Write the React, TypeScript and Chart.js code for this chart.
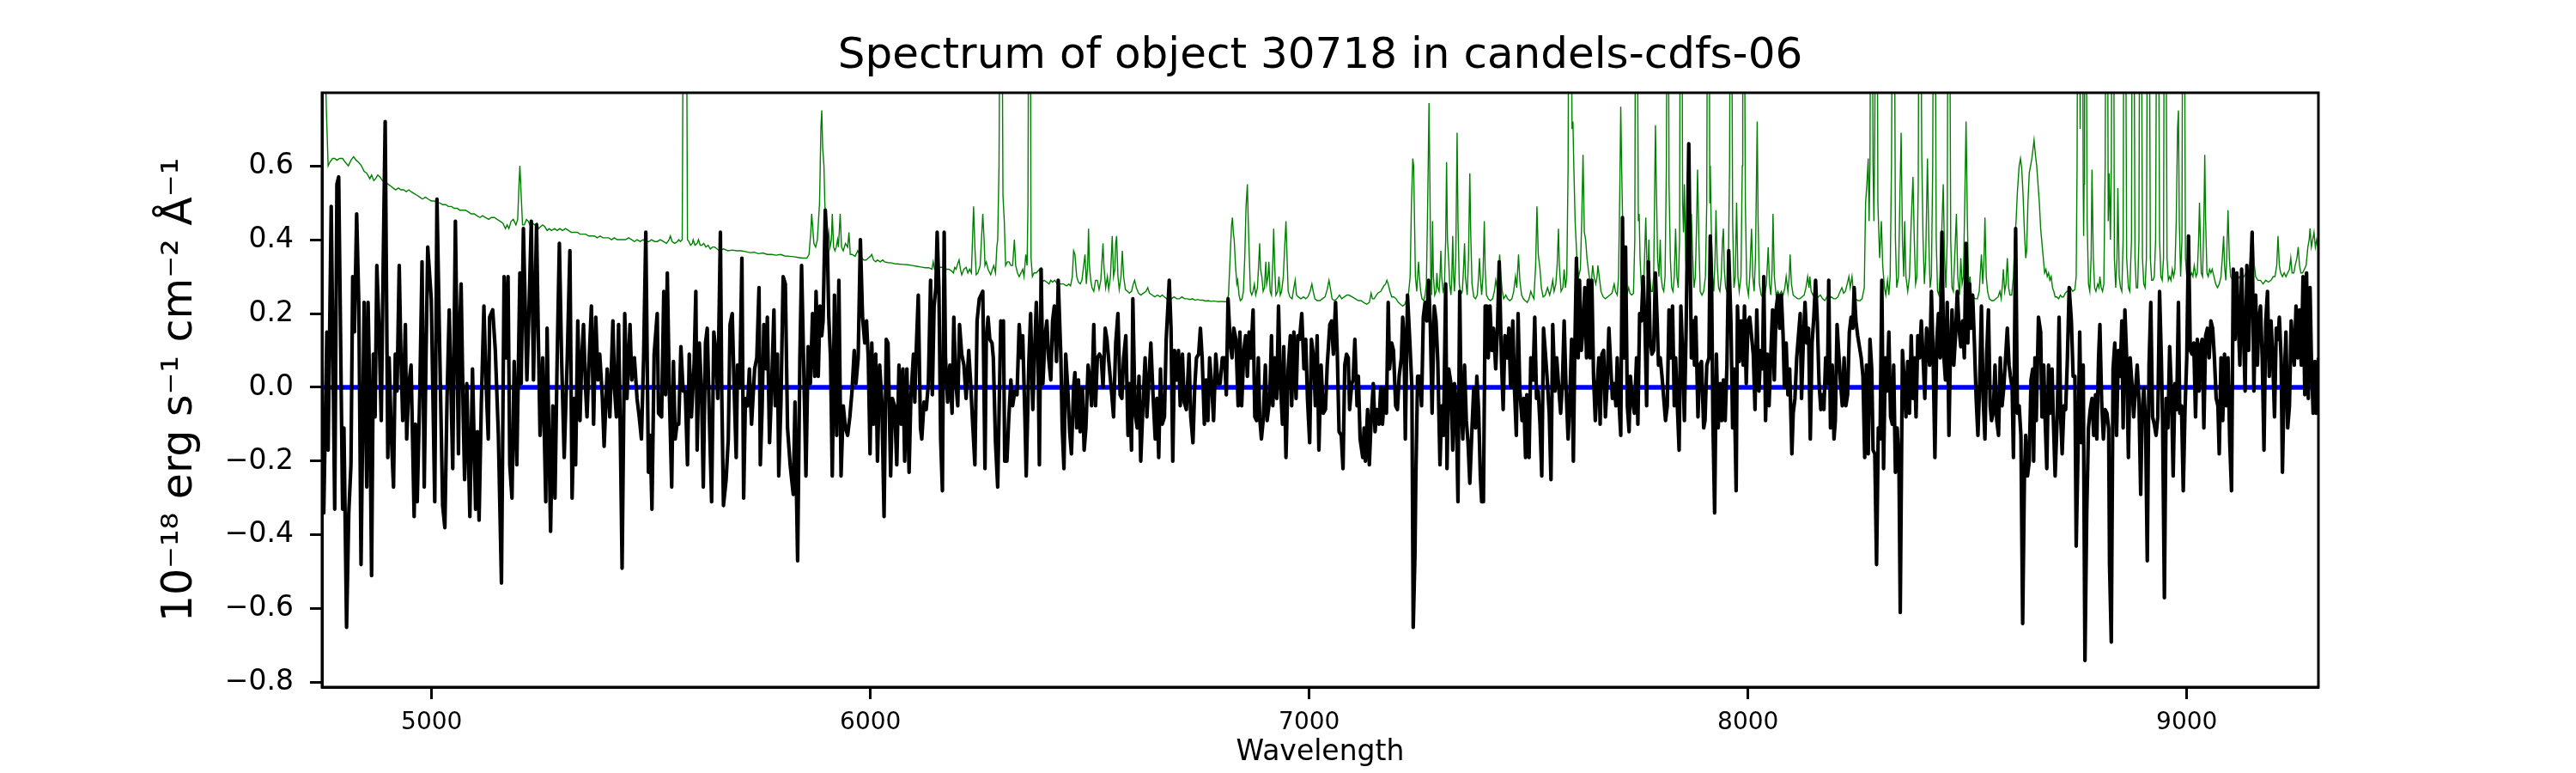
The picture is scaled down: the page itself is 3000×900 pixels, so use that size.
import React, { useEffect, useRef } from "react";
import { Chart, registerables } from "chart.js";

Chart.register(...registerables);

const FONT = "DejaVu Sans";
const titleText = "Spectrum of object 30718 in candels-cdfs-06";
const xLabel = "Wavelength";
const yLabel = "10\u207B\u00B9\u2078 erg s\u207B\u00B9 cm\u207B\u00B2 \u00C5\u207B\u00B9";
const xTicks = [5000, 6000, 7000, 8000, 9000];
const yTicks = [-0.8, -0.6, -0.4, -0.2, 0, 0.2, 0.4, 0.6];
const xRange = [4750, 9300];
const yRange = [-0.812, 0.798];
const zeroWave = [4750, 9300];
const zeroFlux = [0, 0];

// flux: flat pairs [wavelength (Å), flux in units of 0.01 × 1e-18]
const fluxSeg1 = [4750,-10,4754,-34,4761,15,4764,-17,4771,49,4779,-33,4784,55,4788,57,4797,-33,4800,-11,4806,-65,4811,-34,4816,-21,4820,30,4824,15,4829,47,4834,22,4839,-48,4846,23,4852,-27,4855,23,4859,-3,4863,-51,4867,9,4871,-8,4875,33,4880,16,4885,-9,4889,29,4894,72,4900,-19,4903,8,4908,-13,4913,-27,4917,9,4921,-1,4926,33,4930,8,4934,-9,4940,17,4943,-14,4948,1,4953,6,4960,-35,4963,-10,4967,-31,4973,-1,4978,34,4983,-27,4987,8,4991,38,4999,24,5007,-31,5012,51,5018,12,5025,-32,5030,-38,5035,-3,5040,21,5048,-22,5054,45,5061,-18,5064,16,5067,28,5072,-8,5075,-25,5080,1,5087,-35,5093,5,5100,-33,5104,-12,5108,-36,5113,-5,5119,22,5124,1,5129,-14,5132,19,5139,21,5145,10,5152,-13,5159,-53,5165,30,5170,8,5174,30,5178,-21,5183,-30,5188,7,5194,-21,5201,31,5204,1,5209,43,5217,2,5222,22,5227,45,5232,2,5239,44,5243,14,5247,-13,5253,8,5260,-31,5263,16,5267,-13,5271,-39,5276,-5,5281,-30,5286,8,5291,39,5296,8,5302,-19,5309,8,5315,37,5320,-30,5325,-3,5328,-21,5333,18,5338,-9,5342,8,5346,17,5351,-1,5354,-8,5359,8,5364,22,5369,-10,5374,19,5379,2,5383,9,5389,-3,5393,-16,5400,5,5406,-8,5413,18,5417,-1,5421,-8,5426,17,5430,-13,5434,-49,5440,20,5445,-3,5452,17,5456,2,5462,8,5468,-3,5473,-8,5478,-14,5483,8,5488,42,5494,-23,5498,-13,5502,-33,5507,9,5514,20,5517,-7];
const fluxSeg2 = [5524,-8,5529,26,5533,-2,5537,31,5542,-3,5547,-27,5551,7,5555,-14,5559,-10,5563,-10,5568,11,5573,-1,5578,-1,5583,-21,5587,9,5592,-8,5598,6,5602,26,5605,-17,5610,12,5615,-1,5619,-27,5624,12,5628,16,5633,-9,5638,-31,5643,15,5648,9,5652,-3,5658,42,5661,-1,5665,-32,5671,-25,5676,-14,5680,17,5685,20,5689,1,5694,-19,5697,6,5702,0,5707,35,5711,-30,5715,-3,5720,-5,5724,5,5729,-10,5736,5,5741,8,5746,27,5749,-21,5753,-6,5757,17,5762,5,5765,19,5770,-15,5775,1,5780,21,5783,-5,5788,9,5791,-24,5796,-4,5801,30,5806,28,5811,-11,5817,-21,5824,-29,5828,-4,5834,-47,5839,7,5843,33,5848,5,5853,-24,5858,11,5863,1,5868,20,5873,3,5876,26,5881,3,5885,22,5889,14,5892,18,5897,48,5902,37,5905,19,5909,8,5913,-24,5918,25,5923,-13,5928,29,5933,-24,5938,-5,5943,-11,5948,-13,5953,-8,5958,-1,5963,10,5967,1,5972,8,5977,40,5982,19,5987,12,5991,18,5995,8,5999,-18,6003,12,6007,-10,6012,9,6016,-20,6021,6,6026,-4,6031,-35,6036,13,6040,12,6046,-24,6050,-3,6055,-5,6060,-21,6065,6,6070,-10,6074,5,6078,-20,6083,5,6088,-23,6092,-3,6098,9,6101,-4,6104,9,6109,25,6114,-11,6117,-14,6122,-4,6127,-6,6132,1,6137,29,6141,-2,6145,22,6149,27,6152,42,6156,27,6160,-14,6164,-28,6168,42,6171,8,6176,-4,6181,6,6186,-7,6190,19,6194,2,6199,-5,6203,17,6208,9,6213,6,6218,-3,6224,10,6228,2,6233,-10,6238,-21,6243,18,6248,24,6252,25,6256,26,6261,-22,6264,13,6268,19,6272,13,6277,12,6280,8,6285,-15,6290,-27,6297,18,6301,16];
const fluxSeg3 = [6303,18,6306,-20,6311,-20,6315,-9,6320,2,6324,-5,6329,-1,6334,-2,6339,17,6344,8,6347,14,6352,-8,6355,-24,6361,7,6365,20,6370,-6,6374,9,6378,23,6382,8,6385,-21,6389,32,6393,1,6398,14,6402,18,6406,8,6411,2,6415,18,6419,22,6424,7,6428,29,6434,8,6437,-11,6441,-22,6445,9,6450,-1,6454,-12,6458,-18,6463,0,6466,4,6470,-11,6474,2,6478,-12,6483,0,6487,-17,6491,-11,6496,6,6500,2,6504,-5,6509,17,6513,-5,6517,8,6522,9,6526,8,6530,0,6535,16,6539,13,6544,6,6550,-2,6554,-8,6559,12,6564,20,6569,-2,6573,-3,6577,8,6582,14,6587,-13,6590,1,6595,-17,6598,24,6603,-7,6608,-11,6612,3,6616,-20,6621,-5,6626,8,6630,-8,6635,3,6639,12,6644,-2,6649,-14,6653,-3,6657,-19,6661,5,6665,-10,6670,-8,6674,13,6678,22,6681,29,6685,16,6689,-20,6693,10,6698,2,6702,10,6706,-5,6711,9,6715,-4,6720,-6,6726,9,6730,-8,6735,-15,6739,0,6743,8,6748,9,6752,16,6756,8,6761,-10,6765,2,6769,-9,6773,8,6778,0,6782,-9,6787,9,6792,1,6797,1,6802,8,6807,8,6811,-2,6815,24,6820,12,6824,8,6828,16,6833,13,6838,-5,6842,15,6846,-5,6851,10,6855,14,6859,3,6863,15,6867,8,6872,21,6876,-8,6880,-9,6884,8,6887,-8,6891,-14,6895,-9,6900,6,6904,-9,6910,-3,6914,14,6917,-5,6921,8,6926,-3,6930,22,6934,2,6939,-10,6942,11,6947,-19,6952,5,6957,14,6960,-5,6965,15,6970,-3,6974,14,6978,13,6983,20,6988,5,6992,13,6996,-3,7001,-15,7005,13,7010,8,7014,-5,7018,14,7022,-17,7027,6,7032,-7,7037,-6,7041,6,7047,17,7051,18,7055,9,7060,23,7064,9,7068,-12,7073,-13,7077,-22,7081,6,7085,9];
const fluxSeg4 = [7089,8,7092,-6,7097,1,7100,2,7104,13,7109,-5,7112,3,7116,-14,7122,-19,7125,-11,7128,-20,7133,-6,7137,-21,7141,-9,7146,1,7150,-12,7154,-6,7159,-10,7163,0,7167,-10,7172,0,7176,-7,7180,23,7183,5,7188,12,7192,10,7197,-5,7201,-6,7205,3,7210,8,7213,19,7216,13,7219,-14,7224,25,7229,13,7234,0,7237,-65,7241,-45,7243,-24,7247,3,7252,3,7256,-5,7260,19,7264,23,7268,18,7272,29,7276,17,7280,-7,7285,22,7289,18,7293,7,7298,-21,7302,-5,7306,-13,7311,28,7314,-22,7318,5,7323,1,7327,-17,7331,1,7335,-5,7339,-31,7343,26,7346,-3,7350,-14,7354,6,7358,-9,7362,-15,7366,-26,7371,-11,7375,0,7379,-11,7382,3,7386,-6,7390,-24,7393,-31,7397,-31,7401,22,7405,22,7408,8,7412,22,7416,10,7420,16,7425,5,7429,16,7433,34,7438,8,7442,-6,7446,14,7451,8,7455,16,7459,0,7464,18,7468,-1,7472,-13,7476,20,7480,-1,7485,-9,7489,-3,7493,-19,7496,-2,7501,-19,7505,8,7510,2,7514,19,7518,-3,7522,-1,7526,-10,7530,-24,7534,16,7539,8,7543,1,7547,-7,7551,-25,7555,17,7560,-1,7564,8,7568,1,7573,-7,7577,1,7581,18,7585,1,7590,-14,7594,-3,7598,13,7602,-20,7605,8,7609,35,7613,8,7616,29,7620,10,7624,16,7628,27,7632,8,7636,29,7640,8,7644,29,7648,3,7652,-9,7656,0,7660,8,7663,-10,7667,9,7671,10,7675,-8,7679,1,7683,16,7687,6,7691,-3,7695,1,7699,-5,7702,8,7706,-4,7710,-13,7714,46,7717,8,7721,38,7725,-5,7729,-12,7732,3,7736,-3,7741,-7,7746,8,7749,-10,7753,20,7757,18,7761,30,7765,18,7769,-5,7773,34,7777,13,7781,9,7785,10,7789,31,7793,18,7796,6,7800,8,7804,3,7808,-3,7812,-9,7816,-5,7820,21,7824,8,7828,22,7832,-5,7835,8,7839,-5,7843,-17,7847,22,7851,9,7855,-9,7859,16];
const fluxSeg5 = [7865,66,7871,8,7875,18,7878,6,7881,19,7886,-8,7890,6,7894,7,7899,-11,7902,-9,7906,6,7911,8,7914,41,7917,29,7920,-9,7924,-34,7928,9,7932,-11,7937,1,7940,-9,7944,2,7948,-9,7952,6,7956,37,7961,18,7965,-11,7968,5,7973,-28,7976,22,7980,7,7984,18,7989,6,7992,22,7996,1,8000,18,8004,19,8008,14,8012,9,8016,-6,8020,21,8025,-1,8029,10,8033,5,8036,30,8040,-9,8044,9,8048,-5,8052,9,8056,21,8060,2,8064,21,8068,25,8072,16,8076,25,8080,14,8083,0,8087,12,8091,-2,8095,5,8100,-18,8103,-7,8107,-3,8111,8,8115,14,8119,20,8122,-3,8126,12,8130,23,8134,12,8138,16,8142,-14,8146,12,8150,19,8154,29,8158,18,8162,1,8166,-6,8169,-2,8173,-6,8177,8,8181,1,8184,29,8188,-11,8192,6,8196,-14,8199,-9,8203,17,8207,9,8211,1,8215,-5,8219,8,8223,-5,8227,-2,8231,15,8235,19,8239,16,8242,27,8246,18,8250,14,8254,11,8258,8,8262,3,8266,-19,8270,6,8274,-18,8278,13,8282,5,8285,-17,8289,-18,8293,-48,8297,-11,8301,-14,8305,29,8309,-22,8313,8,8317,-1,8321,15,8325,-8,8329,-10,8332,6,8336,-23,8340,-11,8344,-20,8347,-61,8352,10,8356,2,8360,-8,8364,7,8368,-7,8372,14,8376,-3,8379,8,8383,-8,8387,14,8391,8,8395,18,8399,8,8403,-3,8407,16,8411,10,8414,6,8418,26,8422,8,8426,-19,8430,12,8434,20,8438,8,8442,42,8446,9,8450,2,8454,23,8458,-13,8461,8,8465,21,8469,6,8473,14,8477,26,8481,16,8485,11,8489,18,8493,8,8497,39,8501,12,8505,28,8508,16,8512,25,8516,12,8520,-3,8524,-13,8528,1,8532,22,8536,-3,8540,-14,8544,9,8548,21,8552,-5,8555,-9,8559,-7,8563,6,8567,-9,8571,-13,8575,8,8579,-5,8583,0,8587,8,8591,16,8595,6,8598,3,8602,0,8605,-19,8610,43,8614,-7,8618,-5,8622,-13,8626,-64,8630,-24,8633,-13,8637,-24,8641,-20,8645,2,8649,5];
const fluxSeg6 = [8651,-20,8654,8,8657,-9,8662,19,8667,15,8670,-8,8674,6,8677,-8,8681,-22,8685,6,8688,-7,8693,5,8696,-9,8700,-24,8705,-7,8709,19,8713,-9,8716,-18,8720,-5,8724,-6,8728,8,8732,27,8737,18,8741,3,8745,3,8748,-43,8752,-18,8756,15,8760,-15,8764,6,8768,-74,8772,-34,8776,-11,8780,-6,8784,-3,8788,-13,8792,-2,8795,-14,8799,8,8802,17,8806,-4,8810,-14,8814,-6,8818,-7,8822,-11,8824,-48,8828,-69,8832,5,8836,12,8840,-13,8844,10,8848,3,8852,18,8855,-11,8859,21,8863,8,8867,-19,8871,8,8875,1,8879,-8,8883,-1,8887,6,8891,-3,8895,-29,8898,-8,8902,0,8906,-9,8910,-47,8914,6,8918,23,8922,-8,8926,-10,8930,-13,8934,-8,8938,26,8942,8,8945,-10,8949,-57,8953,-3,8957,-11,8961,11,8965,-1,8969,-24,8973,1,8977,-6,8981,23,8984,-7,8988,-5,8992,-28,8996,-6,9000,8,9004,41,9008,10,9012,9,9016,12,9020,-8,9024,13,9028,-1,9031,11,9035,13,9039,-11,9043,14,9047,16,9051,8,9055,18,9059,16,9063,8,9067,-3,9071,-5,9074,-18,9078,8,9082,-9,9086,9,9090,-5,9094,8,9098,-15,9102,-28,9106,32,9110,13,9114,31,9118,16,9121,6,9125,32,9129,16,9133,-1,9137,33,9141,10,9145,29,9149,42,9153,-1,9157,25,9161,6,9164,18,9168,22,9172,8,9176,-17,9180,18,9184,26,9188,3,9192,18,9196,8,9200,-8,9204,16,9208,13,9211,19,9215,8,9218,-23,9222,1,9226,15,9230,-11,9234,-5,9238,18,9241,12,9245,6,9249,22,9253,8,9257,21,9261,6,9265,30,9269,-2,9273,31,9277,-3,9281,27,9284,8,9288,-7,9292,7,9295,-7,9300,8];

// green noise spectrum: flat pairs [wavelength (Å), value]
const noiseSeg1 = [4750,0.95,4757,0.9,4760,0.75,4764,0.6,4768,0.61,4774,0.62,4779,0.62,4784,0.615,4790,0.62,4797,0.62,4803,0.61,4810,0.6,4816,0.615,4822,0.625,4828,0.615,4833,0.61,4840,0.6,4846,0.585,4852,0.58,4859,0.565,4863,0.575,4868,0.56,4872,0.565,4877,0.575,4882,0.57,4888,0.56,4895,0.555,4901,0.55,4907,0.545,4912,0.54,4918,0.535,4924,0.54,4930,0.535,4936,0.535,4942,0.53,4948,0.535,4953,0.53,4960,0.525,4967,0.52,4973,0.515,4979,0.51,4986,0.515,4992,0.51,4999,0.505,5006,0.505,5012,0.5,5018,0.5,5025,0.495,5032,0.495,5038,0.49,5045,0.49,5051,0.485,5058,0.485,5064,0.48,5071,0.48,5077,0.48,5084,0.475,5090,0.47,5097,0.47,5103,0.465,5110,0.46,5116,0.465,5123,0.46,5130,0.455,5136,0.46,5143,0.46,5149,0.455,5156,0.45,5162,0.445,5168,0.43,5172,0.44,5176,0.43,5181,0.45,5186,0.455,5192,0.44,5196,0.455,5199,0.55,5201,0.6,5204,0.52,5207,0.44,5211,0.44,5216,0.455,5220,0.45,5224,0.44,5229,0.445,5235,0.44,5240,0.445,5244,0.43,5248,0.435,5253,0.44,5258,0.435,5263,0.425,5268,0.43,5273,0.425,5280,0.43,5286,0.425,5292,0.43,5298,0.425,5305,0.43,5312,0.425,5318,0.42,5325,0.42,5332,0.42,5338,0.415,5345,0.415,5351,0.415,5358,0.41,5364,0.41,5371,0.41,5377,0.405,5384,0.41,5390,0.405,5397,0.405,5403,0.405,5410,0.4,5416,0.405,5423,0.4,5429,0.4,5436,0.4,5442,0.4,5449,0.405,5456,0.4,5462,0.395,5468,0.4,5475,0.395,5482,0.4,5488,0.395,5495,0.395,5501,0.4,5508,0.395,5514,0.395];
const noiseSeg2 = [5521,0.4,5528,0.395,5535,0.39,5541,0.4,5544,0.41,5548,0.395,5554,0.39,5560,0.395,5563,0.4,5567,0.395,5571,0.4,5574,1.3,5580,1.3,5583,0.4,5586,0.395,5590,0.385,5594,0.39,5596,0.4,5600,0.385,5605,0.39,5608,0.4,5612,0.385,5616,0.385,5620,0.39,5625,0.38,5630,0.385,5635,0.375,5640,0.38,5645,0.38,5650,0.375,5656,0.37,5665,0.375,5675,0.37,5685,0.372,5695,0.37,5705,0.37,5715,0.368,5725,0.365,5735,0.366,5745,0.362,5755,0.364,5765,0.36,5775,0.36,5785,0.358,5795,0.36,5805,0.356,5815,0.355,5825,0.354,5835,0.352,5845,0.35,5855,0.35,5860,0.36,5864,0.42,5866,0.47,5868,0.44,5871,0.39,5875,0.38,5879,0.4,5884,0.5,5887,0.7,5889,0.75,5891,0.65,5894,0.6,5896,0.5,5899,0.4,5902,0.39,5905,0.42,5908,0.38,5911,0.4,5913,0.47,5916,0.38,5919,0.37,5922,0.38,5925,0.4,5927,0.38,5931,0.47,5934,0.38,5938,0.37,5943,0.39,5948,0.38,5951,0.42,5954,0.36,5958,0.36,5965,0.355,5971,0.37,5975,0.36,5980,0.35,5985,0.345,5990,0.345,5995,0.35,6000,0.355,6003,0.36,6007,0.345,6012,0.34,6016,0.345,6022,0.34,6028,0.345,6032,0.34,6040,0.338,6048,0.337,6055,0.335,6065,0.334,6075,0.333,6085,0.332,6095,0.33,6105,0.328,6115,0.326,6125,0.324,6133,0.324,6140,0.32,6143,0.34,6146,0.32,6150,0.32,6158,0.325,6166,0.325,6172,0.32,6179,0.32,6185,0.315,6189,0.31,6192,0.325,6195,0.32,6199,0.335,6202,0.345,6205,0.32,6208,0.305,6213,0.32,6218,0.325,6222,0.31,6226,0.32,6230,0.31,6232,0.38,6235,0.49,6238,0.38,6241,0.305,6245,0.31,6250,0.33,6253,0.4,6256,0.47,6259,0.4,6261,0.33,6264,0.34,6268,0.32,6272,0.31,6274,0.305,6278,0.32,6281,0.33,6285,0.31,6288,0.38,6290,0.4,6293,0.6,6296,1.3,6299,1.3,6302,0.52,6305,0.45,6308,0.33];
const noiseSeg3 = [6312,0.34,6316,0.34,6320,0.33,6324,0.33,6328,0.4,6331,0.33,6335,0.31,6339,0.3,6343,0.31,6347,0.32,6350,0.3,6354,0.36,6357,0.33,6359,0.5,6361,1.3,6364,1.3,6366,0.35,6369,0.3,6373,0.31,6378,0.31,6385,0.32,6391,0.285,6396,0.29,6402,0.285,6407,0.28,6411,0.29,6415,0.285,6420,0.29,6426,0.28,6434,0.28,6440,0.28,6447,0.275,6452,0.28,6456,0.275,6460,0.3,6463,0.37,6466,0.36,6470,0.3,6474,0.285,6478,0.28,6482,0.29,6486,0.33,6489,0.36,6492,0.28,6495,0.33,6497,0.43,6499,0.33,6502,0.29,6505,0.27,6509,0.26,6513,0.29,6517,0.29,6521,0.265,6525,0.29,6528,0.35,6530,0.39,6532,0.33,6536,0.27,6540,0.3,6543,0.265,6547,0.3,6551,0.41,6554,0.3,6557,0.32,6559,0.39,6561,0.41,6564,0.3,6567,0.265,6571,0.3,6574,0.37,6577,0.3,6581,0.265,6586,0.26,6590,0.255,6595,0.26,6599,0.28,6602,0.29,6606,0.27,6611,0.255,6616,0.25,6622,0.255,6628,0.26,6632,0.27,6636,0.255,6642,0.25,6648,0.245,6654,0.25,6660,0.245,6665,0.25,6670,0.245,6675,0.24,6680,0.245,6686,0.24,6692,0.245,6698,0.24,6704,0.24,6710,0.245,6716,0.24,6722,0.24,6728,0.238,6734,0.24,6740,0.236,6746,0.238,6752,0.236,6758,0.236,6764,0.234,6770,0.235,6776,0.233,6782,0.234,6788,0.233,6794,0.232,6800,0.233,6806,0.232,6812,0.232,6816,0.25,6820,0.36,6823,0.44,6825,0.46,6827,0.42,6829,0.4,6832,0.33,6835,0.28,6837,0.29,6840,0.25,6843,0.235,6847,0.24,6850,0.26,6853,0.35,6856,0.49,6859,0.55,6861,0.45,6863,0.37,6866,0.26,6869,0.25,6872,0.26,6875,0.28,6878,0.25,6882,0.27,6885,0.34,6887,0.39,6889,0.32,6892,0.3,6895,0.26,6898,0.27,6901,0.34,6903,0.28,6906,0.3,6908,0.34,6911,0.26,6914,0.25,6917,0.34,6919,0.43,6921,0.34,6924,0.25,6928,0.26,6931,0.3,6934,0.25,6937,0.26,6941,0.3,6944,0.38,6947,0.45,6949,0.37,6952,0.26,6956,0.245,6961,0.24,6965,0.27,6968,0.29,6971,0.25,6975,0.245,6981,0.24,6987,0.245,6992,0.24,6997,0.245,7002,0.26,7006,0.28,7009,0.26,7013,0.24,7018,0.235,7024,0.235,7030,0.24,7036,0.245,7041,0.265,7045,0.29,7048,0.27,7052,0.24,7057,0.235,7063,0.24,7069,0.25,7074,0.24,7080,0.245,7086,0.25];
const noiseSeg4 = [7090,0.25,7098,0.245,7105,0.24,7112,0.235,7118,0.235,7124,0.23,7131,0.225,7137,0.23,7141,0.255,7144,0.24,7148,0.24,7153,0.25,7157,0.256,7163,0.26,7170,0.275,7174,0.28,7177,0.29,7180,0.28,7184,0.26,7188,0.245,7193,0.245,7198,0.24,7203,0.23,7208,0.225,7213,0.22,7218,0.225,7222,0.24,7226,0.25,7230,0.3,7233,0.5,7236,0.62,7238,0.6,7240,0.45,7242,0.3,7245,0.26,7247,0.3,7249,0.34,7251,0.3,7254,0.26,7257,0.24,7261,0.235,7264,0.25,7267,0.28,7270,0.5,7273,0.77,7275,0.55,7277,0.3,7279,0.25,7281,0.45,7283,0.3,7286,0.25,7289,0.26,7291,0.31,7293,0.27,7296,0.26,7298,0.3,7300,0.37,7302,0.3,7305,0.26,7308,0.27,7311,0.4,7313,0.61,7315,0.4,7318,0.34,7320,0.28,7323,0.25,7325,0.3,7327,0.41,7329,0.3,7331,0.26,7334,0.35,7337,0.69,7339,0.45,7342,0.28,7345,0.25,7349,0.26,7352,0.33,7354,0.39,7356,0.3,7360,0.25,7363,0.35,7366,0.58,7368,0.42,7371,0.28,7375,0.245,7379,0.24,7383,0.25,7386,0.3,7388,0.35,7390,0.3,7393,0.25,7396,0.3,7399,0.45,7401,0.32,7404,0.25,7408,0.24,7413,0.235,7418,0.24,7422,0.26,7425,0.29,7428,0.27,7431,0.3,7434,0.36,7437,0.3,7440,0.26,7443,0.24,7448,0.25,7452,0.24,7457,0.235,7462,0.24,7466,0.26,7470,0.3,7473,0.27,7477,0.36,7480,0.29,7484,0.25,7488,0.24,7492,0.235,7497,0.23,7501,0.24,7505,0.26,7508,0.25,7512,0.24,7516,0.33,7519,0.49,7522,0.36,7526,0.32,7529,0.27,7533,0.245,7538,0.25,7543,0.27,7548,0.25,7552,0.27,7555,0.29,7558,0.26,7562,0.28,7565,0.33,7568,0.43,7570,0.33,7574,0.26,7578,0.27,7581,0.32,7584,0.27,7587,0.3,7590,0.6,7592,1.3,7596,1.3,7599,0.7,7601,0.72,7603,0.6,7606,0.45,7610,0.35,7614,0.3,7618,0.32,7621,0.45,7624,0.63,7627,0.42,7630,0.4,7633,0.35,7637,0.31,7641,0.28,7644,0.3,7646,0.33,7649,0.3,7653,0.28,7656,0.3,7658,0.33,7661,0.3,7665,0.26,7670,0.245,7675,0.24,7680,0.245,7685,0.25,7690,0.255,7693,0.27,7695,0.28,7698,0.26,7702,0.25,7705,0.3,7708,0.55,7710,0.76,7712,0.6,7715,0.4,7719,0.3,7722,0.26,7725,0.255,7728,0.27,7731,0.255,7735,0.25,7739,0.255,7742,0.4,7744,1.3,7747,1.3,7750,0.45,7752,0.47,7754,0.35,7757,0.27,7760,0.25,7763,0.3,7767,0.46,7770,0.32,7772,0.3,7774,0.4,7776,0.3,7779,0.26,7782,0.26,7785,0.3,7787,0.5,7789,0.71,7791,0.55,7794,0.35,7797,0.3,7800,0.4,7802,0.3,7805,0.27,7808,0.26,7811,0.3,7814,0.6,7816,1.3,7818,1.3,7820,0.55,7823,0.35,7826,0.27,7829,0.26,7832,0.3,7835,0.43,7838,0.3,7841,0.27,7844,0.4,7846,1.3,7849,1.3,7851,0.5,7853,0.42,7855,0.55,7858,0.35,7861,0.28];
const noiseSeg5 = [7865,0.3,7868,0.4,7871,0.47,7874,0.35,7877,0.27,7880,0.3,7883,0.45,7885,0.59,7888,0.4,7891,0.26,7895,0.25,7899,0.26,7903,0.3,7906,0.5,7908,1.3,7911,1.3,7913,0.5,7914,0.6,7916,0.45,7919,0.3,7922,0.26,7925,0.35,7927,0.48,7930,0.33,7933,0.27,7936,0.26,7939,0.3,7942,0.4,7944,0.43,7946,0.32,7949,0.27,7952,0.26,7955,0.3,7958,0.6,7960,1.3,7962,1.3,7965,0.45,7968,0.27,7971,0.3,7974,0.5,7977,0.3,7980,0.26,7984,0.3,7987,0.6,7988,1.3,7991,1.3,7994,0.5,7997,0.28,8001,0.25,8004,0.3,8008,0.43,8011,0.3,8014,0.26,8017,0.35,8021,0.72,8023,0.45,8026,0.28,8030,0.25,8034,0.245,8038,0.25,8042,0.28,8046,0.38,8049,0.28,8052,0.25,8055,0.32,8057,0.47,8060,0.3,8064,0.25,8068,0.26,8072,0.25,8076,0.26,8080,0.25,8084,0.27,8087,0.3,8091,0.26,8094,0.3,8096,0.36,8099,0.28,8103,0.25,8108,0.245,8113,0.24,8118,0.24,8123,0.245,8128,0.25,8132,0.27,8136,0.3,8139,0.27,8141,0.3,8144,0.26,8148,0.25,8152,0.26,8156,0.24,8160,0.245,8165,0.25,8170,0.24,8175,0.235,8180,0.245,8185,0.24,8190,0.245,8195,0.24,8200,0.24,8205,0.245,8210,0.26,8214,0.27,8218,0.255,8222,0.26,8226,0.28,8230,0.3,8233,0.27,8237,0.3,8240,0.26,8245,0.24,8250,0.235,8255,0.235,8260,0.24,8265,0.27,8268,0.5,8271,0.55,8274,0.62,8276,0.45,8278,0.6,8280,1.3,8283,1.3,8285,0.6,8287,0.45,8289,0.7,8291,1.3,8294,1.3,8296,0.5,8300,0.35,8304,0.45,8307,0.33,8311,0.27,8314,0.25,8318,0.29,8321,0.25,8324,0.3,8327,0.6,8330,1.3,8333,1.3,8336,0.4,8339,0.27,8343,0.3,8346,0.5,8349,0.69,8352,0.4,8355,0.3,8357,0.45,8360,0.3,8364,0.26,8368,0.3,8372,0.45,8376,0.57,8379,0.4,8382,0.28,8385,0.3,8388,0.55,8390,1.3,8393,1.3,8396,0.63,8399,0.4,8402,0.28,8405,0.35,8409,0.62,8412,0.4,8415,0.27,8418,0.3,8421,0.6,8423,1.3,8426,1.3,8429,0.4,8432,0.26,8435,0.25,8438,0.3,8441,0.4,8445,0.55,8448,0.35,8451,0.27,8454,0.4,8456,1.3,8459,1.3,8462,0.4,8465,0.27,8468,0.26,8471,0.35,8475,0.47,8478,0.3,8482,0.25,8485,0.35,8488,0.28,8491,0.3,8494,0.5,8497,0.72,8500,0.45,8503,0.27,8506,0.3,8509,0.25,8513,0.245,8518,0.24,8523,0.24,8527,0.26,8530,0.32,8532,0.36,8535,0.28,8538,0.35,8540,0.46,8543,0.3,8546,0.26,8550,0.24,8555,0.235,8560,0.235,8565,0.24,8570,0.245,8574,0.26,8577,0.24,8580,0.28,8582,0.32,8585,0.26,8588,0.28,8591,0.35,8594,0.27,8597,0.25,8601,0.25,8605,0.3,8608,0.4,8611,0.45,8614,0.53,8618,0.6,8621,0.62,8624,0.59,8627,0.52,8630,0.42,8633,0.35,8635,0.37,8638,0.5,8641,0.58,8644,0.6,8647,0.62,8650,0.65,8652,0.67,8655,0.63,8658,0.6,8661,0.55,8664,0.5,8667,0.43,8670,0.39,8673,0.35,8676,0.31,8679,0.32,8682,0.3,8685,0.31,8688,0.29,8691,0.3,8694,0.27,8697,0.26];
const noiseSeg6 = [8700,0.245,8704,0.245,8708,0.24,8712,0.25,8715,0.245,8719,0.245,8723,0.255,8727,0.26,8731,0.26,8735,0.27,8740,0.26,8745,0.265,8748,0.3,8750,0.6,8752,1.3,8755,1.3,8757,0.7,8759,1.3,8762,1.3,8764,0.55,8765,0.41,8766,0.55,8767,1.3,8770,1.3,8773,0.45,8776,0.28,8779,0.26,8782,0.35,8784,0.59,8787,0.35,8790,0.27,8793,0.26,8797,0.28,8800,0.27,8802,0.3,8805,0.27,8808,0.26,8811,0.28,8814,0.6,8816,1.3,8819,1.3,8821,0.45,8823,0.58,8826,0.4,8828,0.6,8830,1.3,8833,1.3,8835,0.35,8838,0.27,8841,0.35,8843,0.54,8846,0.3,8849,0.27,8852,0.26,8855,0.4,8857,1.3,8860,1.3,8863,0.35,8867,0.27,8870,0.26,8874,0.4,8876,1.3,8879,1.3,8882,0.35,8885,0.27,8888,0.27,8891,0.4,8893,1.3,8896,1.3,8899,0.35,8902,0.28,8905,0.27,8908,0.35,8911,1.3,8914,1.3,8917,0.35,8920,0.29,8923,0.29,8926,0.3,8929,0.4,8932,1.3,8935,1.3,8938,0.4,8941,0.3,8944,0.29,8947,0.35,8949,1.3,8952,1.3,8955,0.35,8958,0.29,8961,0.3,8964,0.29,8967,0.32,8970,0.3,8973,0.32,8976,0.45,8979,0.7,8981,0.75,8983,0.45,8986,0.3,8989,0.4,8991,1.3,8994,1.3,8997,0.35,9000,0.3,9003,0.31,9007,0.3,9011,0.31,9014,0.3,9017,0.33,9021,0.3,9024,0.31,9027,0.4,9029,0.5,9031,0.4,9033,0.31,9036,0.3,9039,0.45,9041,0.63,9043,0.45,9046,0.31,9049,0.3,9052,0.32,9055,0.31,9058,0.32,9062,0.3,9066,0.28,9070,0.27,9074,0.28,9078,0.3,9081,0.35,9084,0.41,9086,0.33,9089,0.29,9091,0.35,9094,0.48,9097,0.35,9100,0.3,9105,0.29,9110,0.3,9115,0.29,9120,0.3,9125,0.29,9130,0.3,9135,0.31,9139,0.32,9142,0.31,9145,0.35,9148,0.38,9151,0.42,9154,0.33,9157,0.3,9162,0.29,9168,0.29,9174,0.28,9180,0.29,9186,0.285,9192,0.29,9197,0.3,9201,0.3,9205,0.33,9208,0.41,9211,0.33,9214,0.31,9218,0.3,9222,0.31,9226,0.3,9230,0.31,9234,0.32,9237,0.35,9240,0.31,9244,0.31,9247,0.33,9251,0.35,9254,0.38,9257,0.33,9260,0.31,9264,0.31,9268,0.32,9272,0.33,9276,0.38,9279,0.4,9281,0.43,9284,0.38,9287,0.4,9290,0.42,9293,0.38,9296,0.4,9300,0.37];

const fluxSegments = [fluxSeg1, fluxSeg2, fluxSeg3, fluxSeg4, fluxSeg5, fluxSeg6];
const noiseSegments = [noiseSeg1, noiseSeg2, noiseSeg3, noiseSeg4, noiseSeg5, noiseSeg6];

function pairsToPoints(segments: number[][], scale: number) {
  const pts: { x: number; y: number }[] = [];
  for (const seg of segments) {
    for (let i = 0; i + 1 < seg.length; i += 2) {
      pts.push({ x: seg[i], y: seg[i + 1] * scale });
    }
  }
  return pts;
}

const framePlugin = {
  id: "frameBox",
  afterDatasetsDraw(chart: any) {
    const { ctx, chartArea } = chart;
    const { left, top, right, bottom } = chartArea;
    ctx.save();
    ctx.strokeStyle = "#000000";
    ctx.lineWidth = 3;
    ctx.strokeRect(left, top, right - left, bottom - top);
    ctx.restore();
  },
};

export default function App() {
  const canvasRef = useRef<HTMLCanvasElement | null>(null);

  useEffect(() => {
    if (!canvasRef.current) return;
    const fluxPoints = pairsToPoints(fluxSegments, 0.01);
    const noisePoints = pairsToPoints(noiseSegments, 1);
    const zeroPoints = zeroWave.map((w, i) => ({ x: w, y: zeroFlux[i] }));

    const chart = new Chart(canvasRef.current, {
      type: "line",
      data: {
        datasets: [
          {
            label: "flux",
            data: fluxPoints,
            borderColor: "#000000",
            borderWidth: 4.2,
            pointRadius: 0,
            tension: 0,
            borderJoinStyle: "round",
            fill: false,
          },
          {
            label: "zero",
            data: zeroPoints,
            borderColor: "#0000ff",
            borderWidth: 5.5,
            pointRadius: 0,
            tension: 0,
            fill: false,
          },
          {
            label: "noise",
            data: noisePoints,
            borderColor: "#008000",
            borderWidth: 1.4,
            pointRadius: 0,
            tension: 0,
            fill: false,
          },
        ],
      },
      options: {
        responsive: false,
        animation: false,
        devicePixelRatio: 1,
        events: [],
        layout: { padding: { left: 0, right: 300, top: 0, bottom: 0 } },
        plugins: {
          legend: { display: false },
          tooltip: { enabled: false },
          title: {
            display: true,
            text: titleText,
            fullSize: false,
            color: "#000000",
            font: { family: FONT, size: 50, weight: "normal", lineHeight: 1.2 },
            padding: { top: 36, bottom: 12 },
          },
        },
        scales: {
          x: {
            type: "linear",
            position: "bottom",
            min: xRange[0],
            max: xRange[1],
            afterFit: (s: any) => {
              s.height = 100;
            },
            afterBuildTicks: (s: any) => {
              s.ticks = xTicks.map((v) => ({ value: v }));
            },
            ticks: {
              color: "#000000",
              font: { family: FONT, size: 28 },
              padding: 11,
              maxRotation: 0,
              autoSkip: false,
              callback: (v: any) => String(v),
            },
            grid: {
              drawOnChartArea: false,
              drawTicks: true,
              tickLength: 14,
              tickWidth: 3,
              tickColor: "#000000",
            },
            border: { display: true, color: "#000000", width: 3 },
            title: {
              display: true,
              text: xLabel,
              color: "#000000",
              font: { family: FONT, size: 33, lineHeight: 1.2 },
              padding: { top: 0, bottom: 4 },
            },
          },
          y: {
            type: "linear",
            position: "left",
            min: yRange[0],
            max: yRange[1],
            afterFit: (s: any) => {
              s.width = 375;
            },
            afterBuildTicks: (s: any) => {
              s.ticks = yTicks.map((v) => ({ value: v }));
            },
            ticks: {
              color: "#000000",
              font: { family: FONT, size: 33 },
              padding: 19,
              autoSkip: false,
              callback: (v: any) => {
                const n = Number(v);
                const txt = Math.abs(n).toFixed(1);
                return n < -1e-9 ? "\u2212" + txt : txt;
              },
            },
            grid: {
              drawOnChartArea: false,
              drawTicks: true,
              tickLength: 14,
              tickWidth: 3,
              tickColor: "#000000",
            },
            border: { display: true, color: "#000000", width: 3 },
            title: {
              display: true,
              text: yLabel,
              color: "#000000",
              font: { family: FONT, size: 49, lineHeight: 1.2 },
              padding: { top: 181, bottom: 0 },
            },
          },
        },
      },
      plugins: [framePlugin],
    } as any);

    return () => {
      chart.destroy();
    };
  }, []);

  return (
    <div
      style={{
        position: "absolute",
        left: 0,
        top: 0,
        width: 3000,
        height: 900,
        background: "#ffffff",
      }}
    >
      <canvas ref={canvasRef} width={3000} height={900} style={{ display: "block" }} />
    </div>
  );
}
